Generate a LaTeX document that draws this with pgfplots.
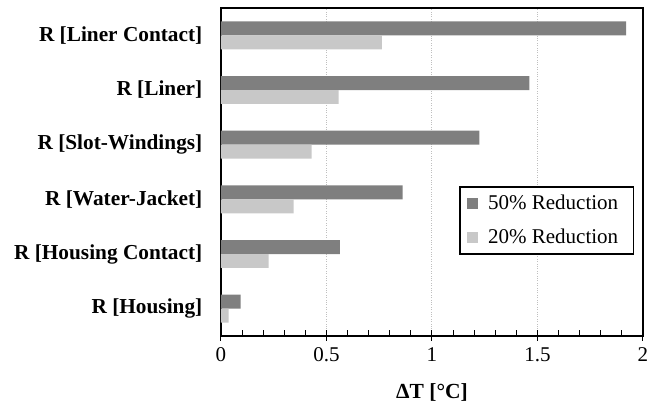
\documentclass[border=0pt]{standalone}
\usepackage{pgfplots}
\pgfplotsset{compat=1.18}
\usepackage{fontspec}
\setmainfont{Liberation Serif}
\definecolor{darkbar}{HTML}{7F7F7F}
\definecolor{lightbar}{HTML}{C8C8C8}
\definecolor{gridc}{HTML}{BFBFBF}
\begin{document}
\fontsize{21}{25}\selectfont
\begin{tikzpicture}
\begin{axis}[
 at={(0,0)}, anchor=south west,
 scale only axis, width=422pt, height=328pt,
 xmin=0, xmax=2, ymin=-0.5, ymax=5.5,
 xtick={0,0.5,1,1.5,2},
 minor x tick num=4,
 xtick pos=bottom,
 ytick pos=left,
 tick align=inside,
 major tick length=10.5pt, minor tick length=6pt,
 major x tick style={yshift=-4.5pt},
 ytick={0,...,5},
 yticklabels={R [Housing], R [Housing Contact], R [Water-Jacket], R [Slot-Windings], R [Liner], R [Liner Contact]},
 ytick style={draw=none},
 yticklabel style={font=\fontsize{21.3}{25}\selectfont\bfseries, xshift=-1pt},
 xticklabel style={font=\fontsize{21}{25}\selectfont, yshift=-4pt},
 tick style={black, line width=1pt},
 /pgf/number format/assume math mode=true,
 xmajorgrids, grid style={dotted, gridc, line width=1pt},
 axis line style={line width=1.5pt},
 xlabel={\bfseries ΔT [°C]},
 xlabel style={font=\fontsize{21.5}{25}\selectfont, yshift=-8pt},
 xbar, bar width=0.256,
 legend style={at={(0.9787,0.4573)}, anchor=north east, draw=black, line width=1.5pt,
   font=\fontsize{21}{25}\selectfont, row sep=12pt, inner xsep=7pt, inner ysep=6pt},
 legend cell align=left,
]
\addplot[fill=darkbar, draw=none, bar shift=0.128,
  legend image code/.code={\fill[darkbar] (0pt,-5.5pt) rectangle (11pt,5.5pt); \path (19pt,0pt);}]
  coordinates {(0.093,0) (0.564,1) (0.861,2) (1.225,3) (1.461,4) (1.920,5)};
\addplot[fill=lightbar, draw=none, bar shift=-0.128,
  legend image code/.code={\fill[lightbar] (0pt,-5.5pt) rectangle (11pt,5.5pt); \path (19pt,0pt);}]
  coordinates {(0.036,0) (0.226,1) (0.344,2) (0.430,3) (0.557,4) (0.763,5)};
\legend{50\% Reduction\hspace*{6pt}, 20\% Reduction\hspace*{6pt}}
\end{axis}
\pgfresetboundingbox
\path[use as bounding box] (-221pt,-69pt) rectangle (436pt,336pt);
\end{tikzpicture}
\end{document}
